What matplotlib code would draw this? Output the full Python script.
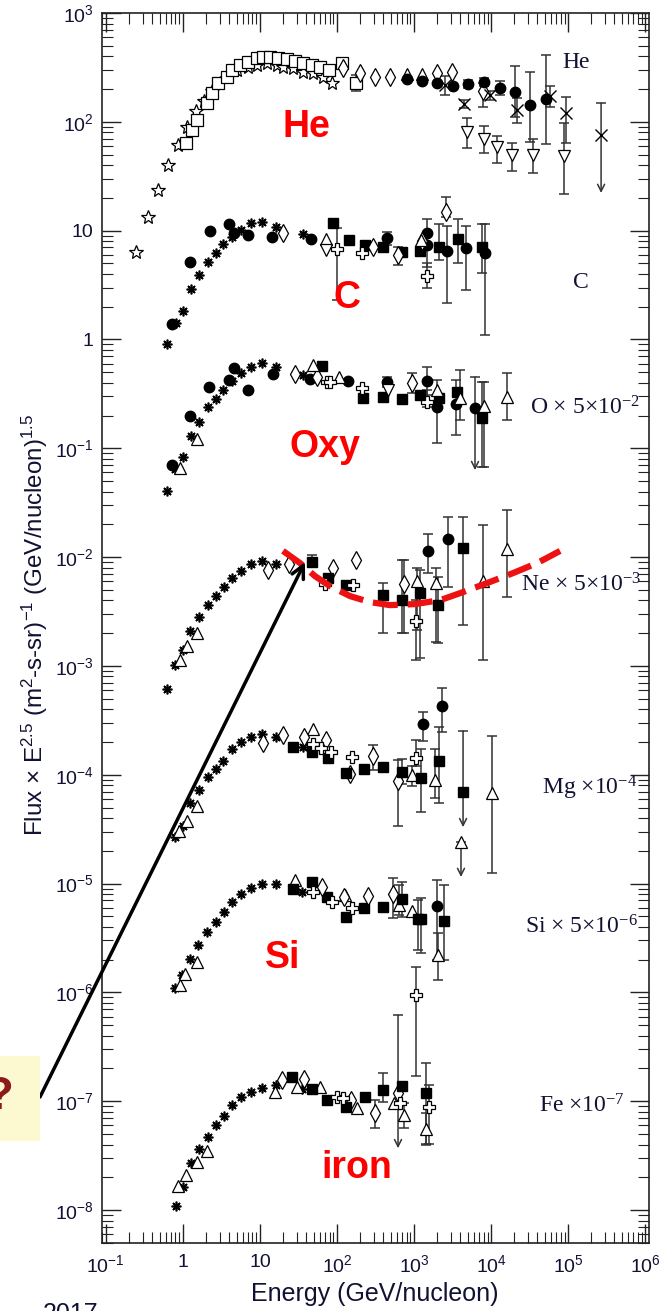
import matplotlib; matplotlib.use('agg')
import matplotlib.pyplot as plt
from matplotlib.patches import Rectangle
from matplotlib.ticker import LogLocator, NullFormatter

plt.rcParams['font.family'] = ['Liberation Sans', 'DejaVu Sans']

# tick labels
xt_vals = [1e-1, 1, 10, 1e2, 1e3, 1e4, 1e5, 1e6]
xt_labels = ['10$\\mathregular{^{-1}}$', '1', '10', '10$\\mathregular{^{2}}$', '10$\\mathregular{^{3}}$',
             '10$\\mathregular{^{4}}$', '10$\\mathregular{^{5}}$', '10$\\mathregular{^{6}}$']
yt_vals = [1e-8, 1e-7, 1e-6, 1e-5, 1e-4, 1e-3, 1e-2, 1e-1, 1, 10, 1e2, 1e3]
yt_labels = ['10$\\mathregular{^{-%d}}$' % k for k in range(8, 0, -1)] + ['1', '10', '10$\\mathregular{^{2}}$', '10$\\mathregular{^{3}}$']

# data: (E, flux) or (E, flux, low, high)
he_star = [(0.245, 6.4), (0.35, 13.3), (0.47, 23.6), (0.64, 40), (0.86, 61), (1.13, 90), (1.48, 126), (1.87, 155),
           (2.38, 192), (3.03, 227), (3.84, 269), (5.0, 299), (7.0, 319), (9.1, 333), (12.3, 347), (16.6, 333),
           (19.9, 319), (26.8, 312), (36, 287), (48.8, 281), (65.8, 258), (86, 227)]
he_osq = [(1.09, 64), (1.31, 84), (1.52, 104), (2.05, 149), (2.38, 184), (2.85, 227), (3.73, 258), (4.33, 299),
          (5.5, 333), (7.0, 355), (9.1, 386), (10.9, 394), (13.5, 394), (17.1, 386), (22.4, 378), (28.5, 362),
          (36, 347), (47.3, 333), (60, 319), (78.7, 299), (116, 347, 320, 375), (177, 227, 192, 268)]
he_dia = [(120, 312), (199, 281), (312, 258), (488, 258), (1990, 281), (3120, 287), (7870, 192, 137, 227)]
he_tri = [(811, 275), (1270, 275)]
he_circ = [(811, 247), (1270, 237), (1990, 227), (3210, 213), (5020, 222, 205, 242), (8110, 232, 213, 253),
           (13100, 205, 176, 237), (20500, 188, 111, 326), (32100, 143, 65, 287), (51800, 162, 62.5, 411)]
he_x = [(2530, 218, 176, 263), (4460, 146, 134, 159), (9700, 176, 159, 192), (21800, 128, 97.5, 165),
        (58300, 173, 137, 213), (94200, 120, 63.8, 169), (2.68e5, 75.7)]
he_tdn = [(4880, 80.5, 57.5, 108), (8110, 69.5, 51.7, 91.5), (12000, 58.6, 41.8, 74), (18700, 49.5, 35.3, 63.8),
          (35100, 49.5, 33.8, 69.5), (88700, 48.5, 21.7, 97.5)]
he_lim = [(2.68e5, 149, 22.2)]

c_ast = [(0.62, 0.908), (0.81, 1.41), (1.0, 1.82), (1.27, 2.91), (1.61, 3.91), (2.11, 5.15), (2.68, 6.23),
         (3.31, 7.53), (4.33, 8.73), (5.66, 10.1), (7.64, 11.7), (10.6, 12.0), (16.1, 10.8), (36.1, 9.3)]
c_circ = [(0.72, 1.39), (1.23, 5.15), (2.24, 9.92), (3.96, 11.5), (4.59, 9.5), (6.98, 9.1), (14.3, 8.73),
          (45.9, 8.37), (446, 8.55, 7.38, 9.7), (1480, 9.5, 4.63, 12.8), (1480, 7.38), (2690, 6.49, 2.16, 11.0),
          (4730, 6.92, 2.85, 11.0), (8360, 6.23, 1.10, 11.5)]
c_sq = [(88.7, 11.7), (143, 8.2), (231, 7.38), (396, 7.06), (698, 6.36), (1200, 6.49), (2110, 7.06, 5.37, 11.5),
        (3720, 8.37, 5.04, 12.8), (7640, 7.06, 4.07, 11.5)]
c_dia = [(19.9, 9.5), (294, 7.06), (620, 5.97, 4.83, 7.06), (1270, 8.02), (2610, 14.8, 13.3, 20.4)]
c_cross = [(100, 6.78, 2.30, 10.6), (211, 6.23), (1480, 3.83, 2.97, 5.04)]
c_tri = [(71.9, 8.37), (1230, 8.2)]
c_tdn = [(71.9, 6.63)]

o_ast = [(0.62, 0.0405), (0.79, 0.0644), (1.0, 0.0830), (1.27, 0.129), (1.61, 0.174), (2.11, 0.239), (2.68, 0.283),
         (3.31, 0.343), (4.33, 0.415), (5.66, 0.491), (7.64, 0.557), (10.6, 0.607), (16.1, 0.557), (36.1, 0.471)]
o_circ = [(0.72, 0.0701), (1.23, 0.198), (2.18, 0.365), (3.96, 0.424), (4.59, 0.546), (6.98, 0.343), (14.7, 0.481),
          (44.6, 0.433), (139, 0.415), (446, 0.406, 0.365, 0.452), (1480, 0.415, 0.308, 0.557),
          (1990, 0.239, 0.112, 0.424), (3510, 0.255, 0.132, 0.424), (6190, 0.234)]
o_sq = [(63.8, 0.570), (218, 0.289), (396, 0.296), (698, 0.283), (1200, 0.308), (2110, 0.289), (3610, 0.329),
        (7640, 0.190, 0.0672, 0.406)]
o_dia = [(28.5, 0.481), (55, 0.452), (942, 0.397, 0.321, 0.491)]
o_tri = [(0.91, 0.0658), (1.52, 0.122), (48.8, 0.582), (106, 0.452), (1990, 0.343), (3950, 0.289, 0.182, 0.523),
         (8110, 0.244, 0.0672, 0.406), (16100, 0.296, 0.182, 0.491)]
o_cross = [(74.1, 0.406), (81.1, 0.406), (211, 0.358), (1480, 0.266, 0.239, 0.343)]
o_tdn = [(459, 0.343)]
o_lim = [(6190, 0.452, 0.063)]

ne_ast = [(0.62, 6.12e-4), (0.79, 1.02e-3), (1.0, 1.40e-3), (1.23, 2.09e-3), (1.61, 2.81e-3), (2.11, 3.62e-3),
          (2.68, 4.38e-3), (3.41, 5.30e-3), (4.33, 6.41e-3), (5.66, 7.43e-3), (7.64, 8.63e-3), (10.6, 9.19e-3),
          (16.1, 8.63e-3)]
ne_tri = [(0.91, 1.13e-3), (1.13, 1.52e-3), (1.52, 2.0e-3), (1090, 6.02e-3, 2.13e-3, 7.92e-3),
          (1930, 5.77e-3, 1.66e-3, 7.92e-3), (7870, 6.02e-3, 1.13e-3, 1.97e-2), (16100, 1.19e-2, 4.29e-3, 2.70e-2)]
ne_dia = [(12.7, 7.59e-3), (23.8, 8.63e-3), (88.7, 7.92e-3), (177, 9.38e-3), (741, 5.65e-3, 2.0e-3, 9.38e-3)]
ne_sq = [(47.3, 9.0e-3, 8.09e-3, 1.04e-2), (76.4, 6.41e-3), (131, 5.53e-3), (396, 4.47e-3, 2.0e-3, 5.77e-3),
         (698, 4.02e-3, 2.0e-3, 9.38e-3), (1200, 4.67e-3, 1.18e-3, 7.59e-3), (2050, 3.62e-3, 1.62e-3, 6.55e-3),
         (4330, 1.21e-2, 2.37e-3, 2.33e-2)]
ne_circ = [(1520, 1.14e-2, 7.13e-3, 1.63e-2), (2770, 1.46e-2, 5.30e-3, 2.33e-2)]
ne_cross = [(69.8, 5.65e-3), (161, 5.53e-3), (1060, 2.58e-3, 1.13e-3, 4.02e-3)]

mg_ast = [(0.79, 2.67e-5), (1.0, 3.37e-5), (1.23, 5.48e-5), (1.61, 7.22e-5), (2.11, 9.50e-5), (2.68, 1.12e-4),
          (3.31, 1.33e-4), (4.33, 1.72e-4), (5.66, 2.0e-4), (7.64, 2.22e-4), (10.6, 2.36e-4), (16.1, 2.22e-4),
          (36.1, 1.79e-4)]
mg_tri = [(0.89, 3.03e-5), (1.13, 3.75e-5), (1.52, 5.14e-5), (48.8, 2.63e-4), (942, 9.91e-5, 7.86e-5, 1.20e-4),
          (1880, 8.92e-5, 6.09e-5, 1.72e-4), (4070, 2.40e-5), (10300, 6.77e-5, 1.25e-5, 2.26e-4)]
mg_dia = [(10.9, 1.95e-4), (19.9, 2.31e-4), (37.2, 2.22e-4), (71.9, 2.08e-4), (148, 1.01e-4),
          (294, 1.48e-4, 1.10e-4, 1.87e-4), (620, 8.73e-5, 3.37e-5, 1.36e-4)]
mg_sq = [(26.8, 1.79e-4), (47.3, 1.61e-4), (76.4, 1.42e-4), (131, 1.03e-4), (224, 1.12e-4), (396, 1.17e-4),
         (698, 1.06e-4, 8.19e-5, 1.39e-4), (1230, 9.31e-5, 4.53e-5, 1.72e-4), (2110, 1.33e-4, 5.48e-5, 2.74e-4),
         (4330, 6.92e-5)]
mg_circ = [(1310, 2.92e-4, 2.04e-4, 3.76e-4), (2310, 4.27e-4, 2.46e-4, 6.25e-4)]
mg_cross = [(48.8, 1.91e-4), (62.0, 1.75e-4), (83.6, 1.61e-4), (157, 1.45e-4), (1060, 1.42e-4, 1.2e-4, 2.08e-4)]
mg_lim = [(4330, 2.52e-4, 3.3e-5), (4070, 2.40e-5, 1.15e-5)]

si_ast = [(0.79, 1.09e-6), (0.97, 1.44e-6), (1.23, 2.02e-6), (1.57, 2.72e-6), (2.05, 3.57e-6), (2.68, 4.42e-6),
          (3.41, 5.46e-6), (4.33, 6.75e-6), (5.66, 7.99e-6), (7.64, 9.08e-6), (10.6, 9.87e-6), (16.1, 9.87e-6),
          (35.1, 8.34e-6)]
si_tri = [(0.91, 1.16e-6), (1.06, 1.47e-6), (1.52, 1.90e-6), (28.5, 1.07e-5), (127, 7.82e-6),
          (638, 6.33e-6, 5.13e-6, 9.66e-6), (942, 5.58e-6), (2050, 2.20e-6, 1.30e-6, 3.50e-6)]
si_sq = [(26.8, 8.89e-6), (47.3, 1.03e-5), (74.1, 7.50e-6), (131, 4.91e-6), (224, 5.94e-6), (396, 6.07e-6),
         (698, 7.19e-6, 4.91e-6, 1.03e-5), (1130, 4.71e-6, 2.44e-6, 7.04e-6), (1230, 4.71e-6, 2.3e-6, 7.3e-6),
         (2460, 4.51e-6, 1.98e-6, 9.66e-6)]
si_circ = [(1990, 6.19e-6, 1.98e-6, 1.07e-5)]
si_dia = [(63.8, 9.27e-6), (123, 7.50e-6), (253, 7.66e-6), (533, 7.99e-6, 4.81e-6, 1.12e-5)]
si_cross = [(48.8, 8.34e-6), (86.1, 6.75e-6), (157, 5.94e-6)]

fe_ast = [(0.81, 1.08e-8), (1.0, 1.62e-8), (1.27, 2.69e-8), (1.61, 3.62e-8), (2.11, 4.67e-8), (2.68, 6.01e-8),
          (3.41, 7.28e-8), (4.33, 9.19e-8), (5.66, 1.09e-7), (7.64, 1.21e-7), (10.6, 1.32e-7), (16.1, 1.40e-7),
          (35.1, 1.29e-7)]
fe_tri = [(0.86, 1.65e-8), (1.09, 2.09e-8), (1.52, 2.75e-8), (2.05, 3.47e-8), (15.7, 1.21e-7), (30.3, 1.35e-7),
          (60.1, 1.35e-7), (182, 8.63e-8), (550, 9.59e-8), (741, 7.43e-8, 5.65e-8, 9.59e-8),
          (1430, 5.53e-8, 4.03e-8, 7.76e-8)]
fe_dia = [(19.3, 1.56e-7), (37.2, 1.59e-7), (152, 1.02e-7), (312, 7.76e-8, 5.65e-8, 1.02e-7), (620, 1.19e-7)]
fe_sq = [(26.0, 1.66e-7), (47.3, 1.29e-7), (74.1, 1.02e-7), (131, 8.81e-8), (231, 1.09e-7),
         (396, 1.26e-7, 9.79e-8, 1.81e-7), (698, 1.37e-7), (1430, 1.19e-7, 3.94e-8, 2.24e-7)]
fe_cross = [(100, 1.09e-7), (120, 1.07e-7), (658, 9.59e-8), (1060, 9.42e-7, 1.70e-7, 1.71e-6),
            (1570, 8.81e-8, 4.03e-8, 1.40e-7)]
fe_lim = [(620, 6.17e-7, 3.70e-8)]

# hand drawn red dashed curve over Ne
ne_fit_E = [19.9, 33.1, 51.8, 81.1, 148, 268, 488, 1030, 2180, 4330, 8870, 19300, 39600, 78700]
ne_fit_F = [1.14e-2, 8.81e-3, 6.69e-3, 5.41e-3, 4.38e-3, 3.86e-3, 3.62e-3, 3.70e-3, 4.02e-3, 4.77e-3,
            5.77e-3, 7.13e-3, 8.81e-3, 1.14e-2]

sty = {
    'ast': dict(marker=(8, 2, 0), ms=7, mew=1.2, color='k'),
    'star': dict(marker='*', ms=10, mfc='white', mec='k', mew=0.9),
    'osq': dict(marker='s', ms=8, mfc='white', mec='k', mew=0.9),
    'circ': dict(marker='o', ms=7.5, color='k'),
    'dia': dict(marker='d', ms=9, mfc='white', mec='k', mew=0.9),
    'tri': dict(marker='^', ms=8, mfc='white', mec='k', mew=0.9),
    'tdn': dict(marker='v', ms=9, mfc='white', mec='k', mew=0.9),
    'x': dict(marker='x', ms=8, color='k', mew=1.0),
    'sq': dict(marker='s', ms=7, color='k'),
    'cross': dict(marker='P', ms=9, mfc='white', mec='k', mew=0.9),
}

fig = plt.figure(figsize=(6.63, 13.11), dpi=100)
ax = fig.add_axes([102 / 663, 1 - 1243 / 1311, 547 / 663, 1230 / 1311])
ax.set_xscale('log')
ax.set_yscale('log')


def draw(pts, kind):
    for p in pts:
        if len(p) == 4:
            ax.errorbar(p[0], p[1], yerr=[[p[1] - p[2]], [p[3] - p[1]]], fmt='none', ecolor='0.2',
                        elinewidth=1.1, capsize=3.5, capthick=1.1, zorder=2)
    ax.plot([p[0] for p in pts], [p[1] for p in pts], ls='none', zorder=3, **sty[kind])


def limits(lims):
    for e, top, bot in lims:
        ax.annotate('', xy=(e, bot), xytext=(e, top),
                    arrowprops=dict(arrowstyle='->,head_length=0.5,head_width=0.25', lw=1.1, color='0.2',
                                    shrinkA=0, shrinkB=0), zorder=2)
        ax.plot([e], [top], marker='_', ms=7, mew=1.1, color='0.2', zorder=2)


for pts, kind in [(he_star, 'star'), (he_osq, 'osq'), (he_dia, 'dia'), (he_tri, 'tri'), (he_circ, 'circ'),
                  (he_x, 'x'), (he_tdn, 'tdn'),
                  (c_ast, 'ast'), (c_circ, 'circ'), (c_sq, 'sq'), (c_dia, 'dia'), (c_cross, 'cross'),
                  (c_tri, 'tri'), (c_tdn, 'tdn'),
                  (o_ast, 'ast'), (o_circ, 'circ'), (o_sq, 'sq'), (o_dia, 'dia'), (o_tri, 'tri'),
                  (o_cross, 'cross'), (o_tdn, 'tdn'),
                  (ne_ast, 'ast'), (ne_tri, 'tri'), (ne_dia, 'dia'), (ne_sq, 'sq'), (ne_circ, 'circ'),
                  (ne_cross, 'cross'),
                  (mg_ast, 'ast'), (mg_tri, 'tri'), (mg_dia, 'dia'), (mg_sq, 'sq'), (mg_circ, 'circ'),
                  (mg_cross, 'cross'),
                  (si_ast, 'ast'), (si_tri, 'tri'), (si_sq, 'sq'), (si_circ, 'circ'), (si_dia, 'dia'),
                  (si_cross, 'cross'),
                  (fe_ast, 'ast'), (fe_tri, 'tri'), (fe_dia, 'dia'), (fe_sq, 'sq'), (fe_cross, 'cross')]:
    draw(pts, kind)

for lims in [he_lim, o_lim, mg_lim, fe_lim]:
    limits(lims)

ax.plot(ne_fit_E, ne_fit_F, color='#ee1111', lw=4.5, dashes=(4, 1.6), zorder=5, solid_capstyle='butt')

ax.set_xlim(10 ** -1.05, 10 ** 6.05)
ax.set_ylim(10 ** -8.303, 1e3)
ax.set_xticks(xt_vals, xt_labels)
ax.set_yticks(yt_vals, yt_labels)
ax.xaxis.set_minor_locator(LogLocator(base=10, subs=range(2, 10), numticks=50))
ax.yaxis.set_minor_locator(LogLocator(base=10, subs=range(2, 10), numticks=50))
ax.xaxis.set_minor_formatter(NullFormatter())
ax.yaxis.set_minor_formatter(NullFormatter())
ax.tick_params(which='both', direction='in', top=True, right=True, colors='#222222')
ax.tick_params(which='major', length=14, width=1.0, labelsize=14, labelcolor='#111133')
ax.tick_params(which='minor', length=8, width=0.8)
ax.tick_params(axis='y', pad=6)
ax.tick_params(axis='x', pad=8)
for s in ax.spines.values():
    s.set_linewidth(1.2)
    s.set_color('#222222')


def fp(x, y):
    return (x / 663, 1 - y / 1311)


fig.text(*fp(375, 1294), 'Energy (GeV/nucleon)', ha='center', va='center', size=18, color='#111133')
fig.text(*fp(35, 625), 'Flux \u00d7 E$\\mathregular{^{2.5}}$ (m$\\mathregular{^{2}}$-s-sr)$\\mathregular{^{-1}}$ '
         '(GeV/nucleon)$\\mathregular{^{1.5}}$', rotation=90, ha='center', va='center', size=17.4, color='#111133')

# element names (serif)
serif = ['Liberation Serif', 'DejaVu Serif']
for x, y, s in [(562, 63, 'He'), (573, 283, 'C'),
                (530, 408, 'O \u00d7 5\u00d710$\\mathregular{^{-2}}$'),
                (521, 585, 'Ne \u00d7 5\u00d710$\\mathregular{^{-3}}$'),
                (542, 788, 'Mg \u00d710$\\mathregular{^{-4}}$'),
                (525, 927, 'Si \u00d7 5\u00d710$\\mathregular{^{-6}}$'),
                (539, 1106, 'Fe \u00d710$\\mathregular{^{-7}}$')]:
    fig.text(*fp(x, y), s, ha='left', va='center', size=17, family=serif, color='#111133')

# red labels
for x, y, s in [(306, 127, 'He'), (347, 298, 'C'), (325, 447, 'Oxy'), (283, 958, 'Si'), (357, 1168, 'iron')]:
    fig.text(*fp(x, y), s, ha='center', va='center', size=27, weight='bold', color='#ff0000')

# yellow note box with question mark and arrow
fig.patches.append(Rectangle(fp(0, 1141), 40 / 663, 85 / 1311, transform=fig.transFigure,
                             facecolor='#fcf8cf', edgecolor='none', zorder=0))
fig.text(*fp(14, 1097), '?', ha='right', va='center', size=34, weight='bold', color='#8b1a1a')
ax.annotate('', xy=fp(305, 562), xytext=fp(40, 1097), xycoords='figure fraction', textcoords='figure fraction',
            arrowprops=dict(arrowstyle='->,head_length=0.9,head_width=0.45', lw=2.5, color='k',
                            shrinkA=0, shrinkB=0), annotation_clip=False, zorder=6)

fig.text(*fp(43, 1302), '2017', ha='left', va='top', size=18, color='#111133')

plt.savefig('out.png', dpi=100)
